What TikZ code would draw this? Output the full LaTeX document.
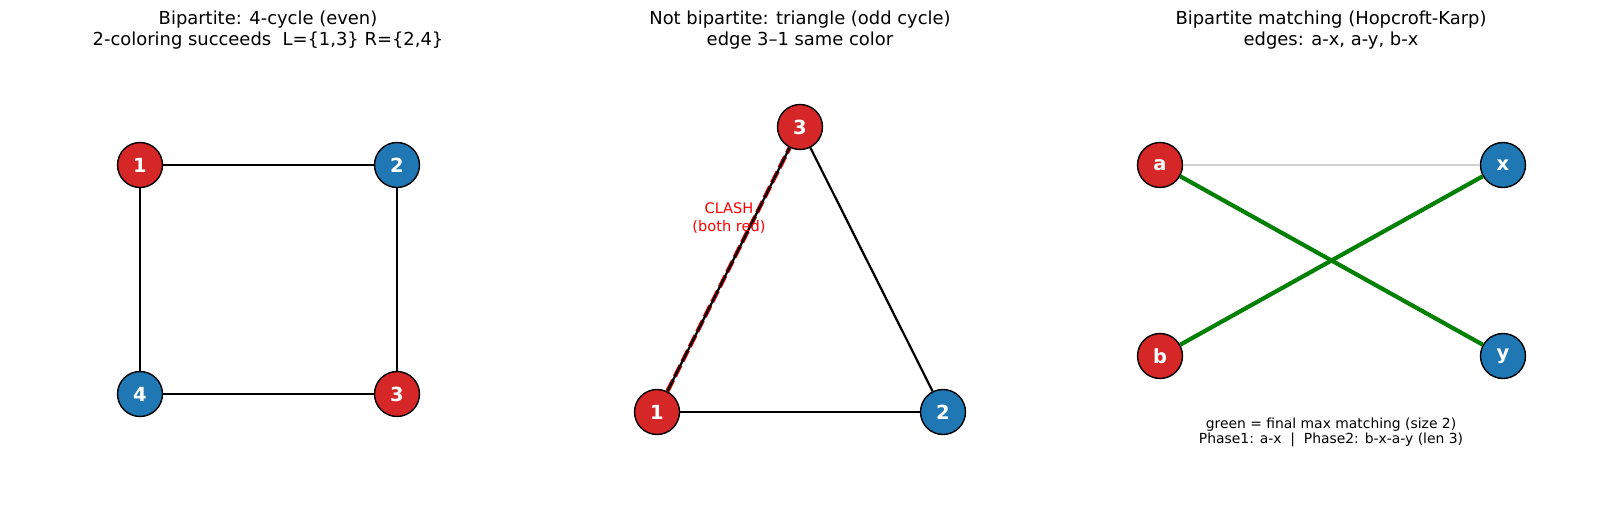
\documentclass[tikz,border=0pt]{standalone}
\usepackage{fontspec}
\setmainfont{DejaVu Sans}
\usepackage{tikz}
\usetikzlibrary{calc}
\definecolor{vred}{HTML}{D62728}
\definecolor{vblue}{HTML}{1F77B4}
\definecolor{matchgreen}{HTML}{008000}
\tikzstyle{vertex} = [circle, draw=black, line width=1pt, minimum size=32.4pt,
    inner sep=0pt, text=white, font=\fontsize{14}{16}\selectfont\bfseries]
\tikzstyle{plainedge} = [draw, black, line width=1.6pt]

\begin{document}
\begin{tikzpicture}[x={(0.72pt,0)}, y={(0,-0.72pt)},
    redvertex/.style={vertex, fill=vred},
    bluevertex/.style={vertex, fill=vblue},
    title/.style={align=center, font=\fontsize{12.9}{14.6}\selectfont},
    note/.style={align=center, font=\fontsize{10}{10.8}\selectfont},
    matchedge/.style={draw, matchgreen, line width=3pt},
    unusededge/.style={draw, black!18, line width=1.7pt},
    clashedge/.style={draw, red!85!black, line width=3pt, dash pattern=on 9pt off 3pt}
    ]
    \useasboundingbox (0,0) rectangle (1600,520);

    % 4-cycle
    \node[title] (title1) at (268,30) {Bipartite: 4-cycle (even)\\2-coloring succeeds\ \ L=\{1,3\} R=\{2,4\}};
    \node[redvertex] (sq1) at (140,165) {1};
    \node[bluevertex] (sq2) at (397,165) {2};
    \node[redvertex] (sq3) at (397,394) {3};
    \node[bluevertex] (sq4) at (140,394) {4};
    \path[plainedge] (sq1) -- (sq2);
    \path[plainedge] (sq2) -- (sq3);
    \path[plainedge] (sq3) -- (sq4);
    \path[plainedge] (sq4) -- (sq1);

    % triangle
    \node[title] (title2) at (800,30) {Not bipartite: triangle (odd cycle)\\edge 3–1 same color};
    \node[redvertex] (tr1) at (657,412) {1};
    \node[bluevertex] (tr2) at (943,412) {2};
    \node[redvertex] (tr3) at (800,127) {3};
    \path[clashedge] (tr1) -- (tr3);
    \path[plainedge] (tr1) -- (tr3);
    \path[plainedge] (tr3) -- (tr2);
    \path[plainedge] (tr2) -- (tr1);
    \node[align=center, text=red, font=\fontsize{10.5}{12.5}\selectfont] (clash) at (729,218) {CLASH\\(both red)};

    % matching
    \node[title] (title3) at (1331,30) {Bipartite matching (Hopcroft-Karp)\\edges: a-x, a-y, b-x};
    \node[redvertex] (ma) at (1160,165) {a};
    \node[redvertex] (mb) at (1160,356) {b};
    \node[bluevertex] (mx) at (1503,165) {x};
    \node[bluevertex] (my) at (1503,356) {y};
    \path[unusededge] (ma) -- (mx);
    \path[matchedge] (ma) -- (my);
    \path[matchedge] (mb) -- (mx);
    \node[note] (legend) at (1331,432) {green = final max matching (size 2)\\Phase1: a-x\ \ |\ \ Phase2: b-x-a-y (len 3)};
\end{tikzpicture}
\end{document}
